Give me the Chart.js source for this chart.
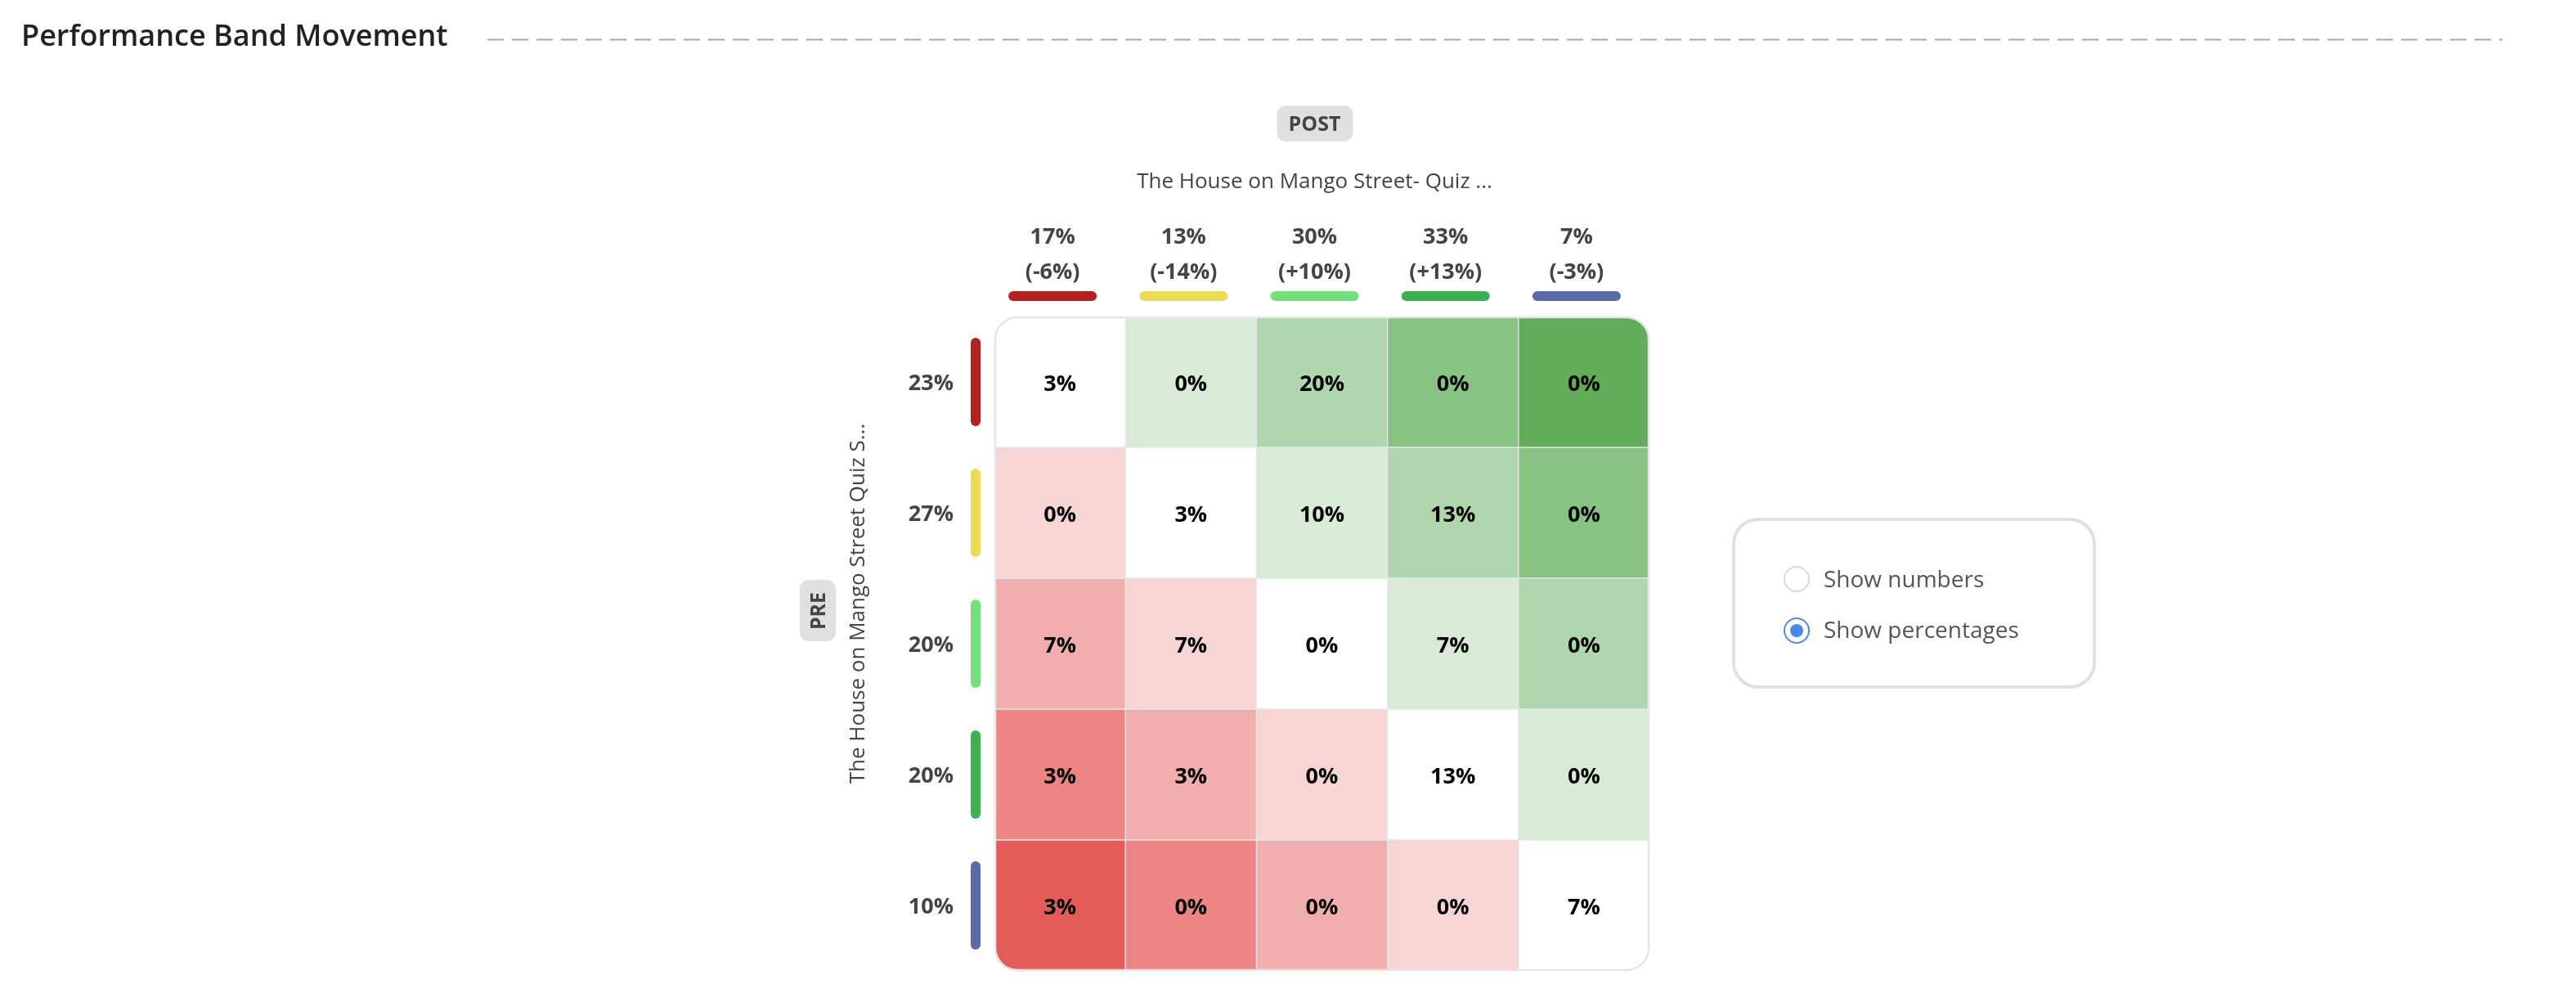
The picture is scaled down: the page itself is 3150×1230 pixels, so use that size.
<!DOCTYPE html>
<html>
<head>
<meta charset="utf-8">
<script src="https://cdn.jsdelivr.net/npm/chart.js@4.4.1/dist/chart.umd.min.js"></script>
<style>
  html, body { margin: 0; padding: 0; background: #fff; }
  #wrap { position: relative; width: 3150px; height: 1230px; overflow: hidden; font-family: 'Open Sans', sans-serif; }
  #chart { position: absolute; left: 0; top: 0; }
  #title { position: absolute; left: 26px; top: 25px; font-size: 36px; line-height: 36px; font-weight: 600; color: #222; white-space: nowrap; }
  #dash { position: absolute; left: 596px; top: 47px; }
  #panel { position: absolute; left: 2118px; top: 633px; width: 437px; height: 201px; border: 4px solid #e0e0e0; border-radius: 32px; box-sizing: content-box; }
  .opt { position: absolute; left: 2230px; font-size: 28px; line-height: 28px; color: #555; white-space: nowrap; }
  .radio { position: absolute; width: 32px; height: 32px; border-radius: 50%; box-sizing: border-box; }
  #r1 { left: 2181px; top: 692px; border: 2px solid #d9d9d9; }
  #r2 { left: 2181px; top: 755px; border: 2.5px solid #4a89e8; }
  #r2dot { position: absolute; left: 2189px; top: 763px; width: 16px; height: 16px; border-radius: 50%; background: #4a89e8; }
</style>
</head>
<body>
<div id="wrap">
  <canvas id="chart" width="3150" height="1230"></canvas>
  <div id="title">Performance Band Movement</div>
  <svg id="dash" width="2464" height="3"><line x1="0" y1="1.5" x2="2464" y2="1.5" stroke="#a8a8a8" stroke-width="2" stroke-dasharray="20 10"/></svg>
  <div id="panel"></div>
  <div class="radio" id="r1"></div>
  <div class="opt" style="top:693px">Show numbers</div>
  <div class="radio" id="r2"></div>
  <div id="r2dot"></div>
  <div class="opt" style="top:755px">Show percentages</div>
</div>
<script>
// ---- Data ----
const postBands = ['Band 1', 'Band 2', 'Band 3', 'Band 4', 'Band 5'];
const postPercents = ['17%', '13%', '30%', '33%', '7%'];
const postChanges = ['(-6%)', '(-14%)', '(+10%)', '(+13%)', '(-3%)'];
const prePercents = ['23%', '27%', '20%', '20%', '10%'];
const bandColors = ['#b22222', '#ecdc55', '#74e07c', '#3db052', '#5a6ca8'];
const postTitle = 'The House on Mango Street- Quiz ...';
const preTitle = 'The House on Mango Street Quiz S...';

// movement of students (percent) from each PRE band (row) to each POST band (column)
const preBand1 = [3, 0, 20, 0, 0];
const preBand2 = [0, 3, 10, 13, 0];
const preBand3 = [7, 7, 0, 7, 0];
const preBand4 = [3, 3, 0, 13, 0];
const preBand5 = [3, 0, 0, 0, 7];

const gainShades = ['#d9ead7', '#b0d6ae', '#88c383', '#61ad5a'];
const lossShades = ['#f7d5d5', '#f2aeae', '#ec8584', '#e45c5a'];

// ---- Build chart ----
const rows = [preBand1, preBand2, preBand3, preBand4, preBand5];
function shadeFor(d) {
  if (d === 0) return '#ffffff';
  return d > 0 ? gainShades[d - 1] : lossShades[-d - 1];
}
const datasets = rows.map((vals, r) => ({
  label: prePercents[r],
  rowIndex: r,
  data: vals.map(() => 1),
  cellText: vals.map(v => v + '%'),
  backgroundColor: vals.map((v, c) => shadeFor(c - r))
})).reverse(); // stacked from bottom

const FONT = "'Open Sans', sans-serif";
const headerShift = -9;
const LBL = '700 27px ' + FONT;
const LOFF = 10;

function rr(ctx, x, y, w, h, r) {
  ctx.beginPath();
  ctx.roundRect(x, y, w, h, r);
}

const decor = {
  id: 'decor',
  beforeDatasetsDraw(chart) {
    const { ctx, chartArea: a } = chart;
    ctx.save();
    rr(ctx, a.left, a.top, a.right - a.left, a.bottom - a.top, 28);
    ctx.clip();
  },
  afterDatasetsDraw(chart) {
    const { ctx, chartArea: a } = chart;
    ctx.restore();
    ctx.save();
    // outer border
    rr(ctx, a.left + 1, a.top + 1, a.right - a.left - 2, a.bottom - a.top - 2, 27);
    ctx.strokeStyle = '#e6e6e6';
    ctx.lineWidth = 2.5;
    ctx.stroke();

    // cell labels
    ctx.fillStyle = '#000';
    ctx.font = LBL;
    ctx.textAlign = 'center';
    ctx.textBaseline = 'alphabetic';
    chart.data.datasets.forEach((ds, i) => {
      const meta = chart.getDatasetMeta(i);
      meta.data.forEach((el, j) => {
        const cy = (el.y + el.base) / 2;
        ctx.fillText(ds.cellText[j], el.x, cy + LOFF + 1);
      });
    });

    const xs = chart.scales.x, ys = chart.scales.y;
    const midX = (a.left + a.right) / 2 + headerShift;
    const midY = (a.top + a.bottom) / 2;

    // column headers
    ctx.fillStyle = '#444';
    postBands.forEach((b, j) => {
      const x = xs.getPixelForValue(j) + headerShift;
      ctx.font = LBL;
      ctx.fillText(postPercents[j], x, a.top - 89);
      ctx.fillText(postChanges[j], x, a.top - 46);
      ctx.fillStyle = bandColors[j];
      rr(ctx, x - 54, a.top - 31, 108, 12, 6);
      ctx.fill();
      ctx.fillStyle = '#444';
    });

    // post axis title + badge
    ctx.font = '400 26px ' + FONT;
    ctx.fillStyle = '#444';
    ctx.fillText(postTitle, midX, a.top - 157);
    ctx.fillStyle = '#e0e0e0';
    rr(ctx, midX - 46, a.top - 258, 93, 44, 11);
    ctx.fill();
    ctx.fillStyle = '#444';
    ctx.font = '700 25px ' + FONT;
    ctx.fillText('POST', midX, a.top - 227);

    // row headers
    ctx.textAlign = 'right';
    prePercents.forEach((p, r) => {
      const y = ys.getPixelForValue(rows.length - r - 0.5);
      ctx.fillStyle = '#444';
      ctx.font = LBL;
      ctx.fillText(p, a.left - 50, y + LOFF);
      ctx.fillStyle = bandColors[r];
      rr(ctx, a.left - 29, y - 54, 12, 108, 6);
      ctx.fill();
    });

    // pre axis title (rotated)
    ctx.textAlign = 'center';
    ctx.save();
    ctx.translate(a.left - 159, midY - 49);
    ctx.rotate(-Math.PI / 2);
    ctx.fillStyle = '#444';
    ctx.font = '400 26px ' + FONT;
    ctx.fillText(preTitle, 0, 0);
    ctx.restore();

    // PRE badge
    ctx.save();
    ctx.translate(a.left - 216, midY - 40);
    ctx.rotate(-Math.PI / 2);
    ctx.fillStyle = '#e0e0e0';
    rr(ctx, -37, -22, 75, 44, 11);
    ctx.fill();
    ctx.fillStyle = '#444';
    ctx.font = '700 25px ' + FONT;
    ctx.fillText('PRE', 0, 9);
    ctx.restore();

    ctx.restore();
  }
};

new Chart(document.getElementById('chart'), {
  type: 'bar',
  data: { labels: postBands, datasets },
  options: {
    responsive: false,
    animation: false,
    devicePixelRatio: 1,
    layout: { padding: { left: 1216, right: 1133, top: 387, bottom: 43 } },
    plugins: { legend: { display: false }, tooltip: { enabled: false } },
    scales: {
      x: { stacked: true, display: false, grid: { display: false } },
      y: { stacked: true, display: false, min: 0, max: 5, grid: { display: false } }
    },
    datasets: {
      bar: { barPercentage: 1, categoryPercentage: 1, borderWidth: 1, borderColor: '#e6e6e6', borderSkipped: false }
    }
  },
  plugins: [decor]
});
</script>
</body>
</html>
